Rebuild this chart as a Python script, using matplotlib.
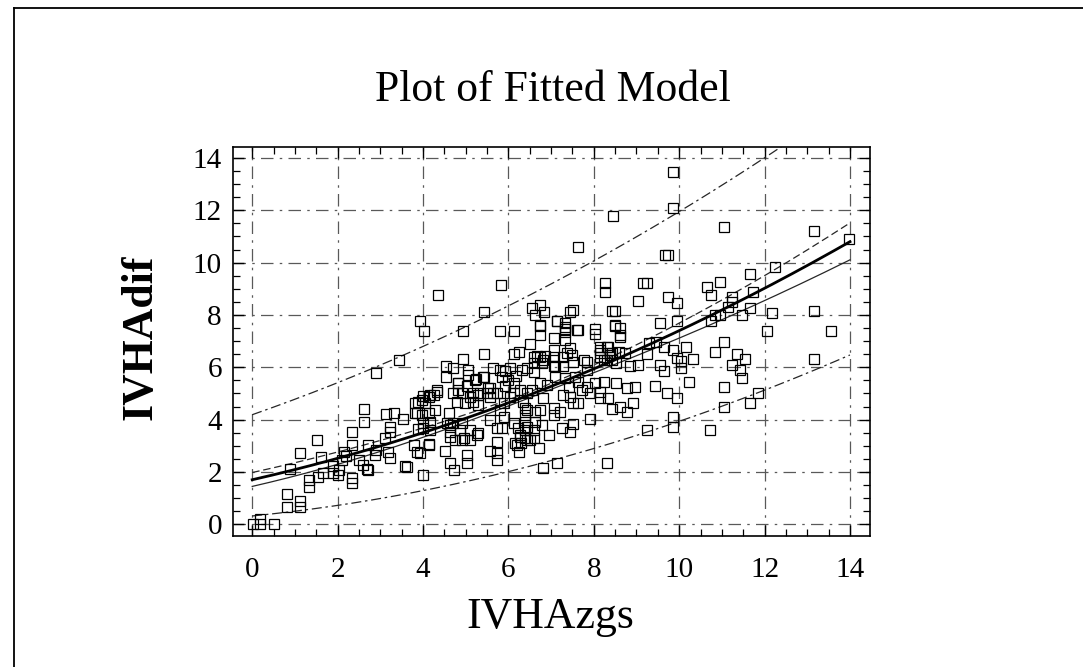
import matplotlib
matplotlib.use("Agg")
import matplotlib.pyplot as plt
import numpy as np
from matplotlib.lines import Line2D
from matplotlib.ticker import MultipleLocator

# ---------------- data ----------------
x_pts = [
    2.90, 2.61, 2.61, 3.14, 3.33, 3.22, 3.22, 3.11, 2.33, 2.33, 2.72, 1.52, 1.12, 1.62, 0.89,
    2.14, 2.20, 2.10, 2.49, 2.59, 2.69, 1.89, 1.90, 2.02, 2.04, 1.66, 1.53, 1.32, 1.32, 2.33,
    2.33, 0.81, 0.81, 1.12, 1.12, 0.02, 0.19, 0.19, 0.50, 2.90, 2.88, 3.19, 3.22, 2.72,
    5.82, 4.36, 3.93, 4.03, 5.44, 4.93, 5.81, 6.13, 3.43, 5.44, 4.93, 6.13, 6.24, 6.50, 4.54,
    4.71, 5.05, 5.05, 5.25, 5.44, 4.54, 5.64, 5.81, 5.92, 6.04, 5.84, 5.98, 6.18, 6.32, 6.43,
    5.92, 6.13, 4.83, 5.04, 5.56, 4.33, 4.17, 4.01, 4.83, 5.18, 5.34, 5.65,
    4.25, 4.05, 4.71, 4.91, 5.10, 5.30, 5.49, 5.57, 3.89, 4.79, 4.98, 5.18, 5.30, 3.53, 3.82,
    3.97, 4.01, 4.17, 4.60, 4.56, 4.71, 4.91, 5.10, 5.30, 4.87, 4.64, 4.75, 4.91, 5.10, 5.57,
    5.73, 5.84, 6.12, 6.23, 6.43, 5.73, 6.27, 6.16, 6.30, 6.43, 5.56, 5.73, 5.74, 5.02, 5.02,
    4.52, 4.64, 4.73, 4.13, 3.78, 3.86, 3.93, 3.58, 4.01,
    7.64, 8.27, 8.27, 9.16, 9.24, 9.04, 6.55, 6.74, 6.84, 6.62, 7.45, 7.52, 8.42, 8.50, 7.13,
    7.33, 7.33, 7.64, 8.03, 8.50, 8.62, 8.62, 6.74, 6.74, 7.06, 7.06, 7.45, 7.49, 6.86, 6.67,
    8.15, 8.34, 8.38,
    6.59, 6.74, 6.59, 6.78, 6.59, 7.06, 7.29, 7.06, 7.29, 7.52, 7.84, 8.15, 8.30, 8.38, 8.53,
    8.85, 9.04, 6.74, 6.90, 6.55, 6.43, 6.82, 7.10, 7.33, 7.41, 7.64, 7.84, 8.03, 8.23, 8.53,
    8.77, 8.97, 7.72, 7.91, 8.15, 8.15, 8.34, 7.29, 7.45, 7.52, 7.64, 8.42, 8.62, 8.77, 8.93,
    7.91, 7.52, 7.25, 7.45, 6.39, 6.39, 6.39, 6.63, 6.63, 6.74, 7.06, 7.06, 7.21, 6.78, 6.59,
    6.59, 6.94, 6.71, 6.39, 6.39, 7.13, 6.82, 8.32, 9.24,
    9.85, 9.85, 11.04, 13.16, 13.97, 9.67, 9.75, 12.25, 11.66, 10.96, 10.65, 10.74, 11.74,
    11.23, 11.23, 11.15, 9.73, 9.96, 11.66, 11.47, 12.17, 13.16, 10.84, 10.96, 10.74, 9.54,
    9.96, 12.05, 13.55, 9.30, 9.46, 9.24, 9.64, 9.85, 10.16, 11.04, 10.84, 11.35, 11.55, 11.23,
    11.43, 11.47, 9.96, 10.04, 10.04, 10.33, 9.54, 9.64, 13.16, 9.44, 9.72, 9.96, 10.23, 11.04,
    11.84, 11.65, 11.04, 9.85, 9.85, 10.72, 8.45,
    8.15, 8.30, 8.42, 8.15, 8.23, 8.42, 8.58, 8.74,
    3.82, 3.97, 4.13, 4.33, 3.86, 4.13, 4.29, 3.89, 4.01, 4.17, 4.13, 3.62, 4.83, 5.22, 5.41,
    5.53, 4.64, 4.64, 4.95, 5.26, 6.27, 6.51, 6.20, 6.24, 5.73, 5.89, 6.12, 6.27, 6.35, 6.04,
    5.81, 5.89, 6.43,
    6.74, 7.13, 7.33, 7.33, 7.33, 7.60, 8.03, 8.50, 8.62, 6.82, 7.10, 7.37, 7.76, 7.84, 7.56,
]
y_pts = [
    5.77, 4.40, 3.92, 4.20, 4.27, 3.73, 3.54, 3.31, 3.52, 3.03, 3.03, 3.21, 2.71, 2.58, 2.11,
    2.78, 2.61, 2.46, 2.46, 2.27, 2.10, 2.23, 1.97, 1.88, 2.08, 1.97, 1.80, 1.69, 1.44, 1.76,
    1.57, 1.16, 0.64, 0.90, 0.64, 0.00, 0.19, 0.00, 0.00, 2.84, 2.65, 2.78, 2.52, 2.08,
    9.15, 8.77, 7.78, 7.40, 8.10, 7.40, 7.40, 7.40, 6.28, 6.51, 6.31, 6.51, 6.60, 6.89, 6.05,
    5.96, 5.90, 5.71, 5.54, 5.62, 5.62, 5.99, 5.90, 5.87, 5.96, 5.64, 5.52, 5.68, 5.90, 5.96,
    5.29, 5.39, 5.41, 5.29, 5.20, 5.13, 4.94, 4.90, 5.13, 5.01, 5.01, 5.01,
    4.94, 4.63, 5.01, 5.01, 4.88, 4.94, 5.01, 4.88, 4.69, 4.69, 4.63, 4.69, 4.56, 4.01, 4.24,
    4.18, 3.86, 3.92, 4.27, 3.86, 3.86, 3.86, 3.60, 3.48, 3.60, 3.35, 3.22, 3.22, 3.22, 3.99,
    3.67, 3.67, 3.86, 3.67, 3.73, 3.16, 3.41, 3.10, 3.10, 3.22, 2.80, 2.71, 2.46, 2.65, 2.33,
    2.80, 2.33, 2.08, 3.06, 3.03, 2.78, 2.71, 2.23, 1.88,
    10.59, 9.24, 8.89, 9.24, 9.24, 8.55, 8.26, 8.38, 8.13, 8.00, 8.13, 8.19, 8.16, 8.16, 7.77,
    7.68, 7.45, 7.43, 7.45, 7.58, 7.49, 7.24, 7.58, 7.24, 7.13, 6.66, 6.73, 6.47, 6.43, 6.43,
    6.66, 6.79, 6.47,
    6.41, 6.41, 6.15, 6.15, 5.83, 6.41, 6.41, 6.03, 6.03, 6.22, 6.22, 6.41, 6.28, 6.54, 6.15,
    6.03, 6.09, 5.39, 5.32, 5.13, 5.01, 4.82, 5.64, 5.58, 5.26, 5.45, 5.26, 5.39, 5.45, 5.41,
    5.20, 5.26, 5.13, 5.01, 5.07, 4.82, 4.82, 4.94, 4.88, 4.63, 4.63, 4.40, 4.50, 4.30, 4.63,
    4.01, 3.83, 3.67, 3.54, 4.43, 4.18, 3.92, 4.30, 3.92, 4.37, 4.43, 4.18, 4.30, 3.80, 3.60,
    3.29, 3.41, 2.91, 3.60, 3.29, 2.33, 2.14, 2.33, 3.60,
    13.48, 12.10, 11.38, 11.21, 10.89, 10.28, 10.28, 9.85, 9.57, 9.25, 9.06, 8.77, 8.89,
    8.70, 8.51, 8.32, 8.70, 8.45, 8.26, 8.00, 8.09, 8.17, 8.00, 7.98, 7.75, 7.68,
    7.75, 7.40, 7.40, 6.94, 6.98, 6.51, 6.79, 6.66, 6.79, 6.98, 6.60, 6.51, 6.31, 6.09,
    5.90, 5.60, 6.35, 6.24, 5.96, 6.31, 6.09, 5.87, 6.31, 5.29, 5.01, 4.82, 5.43, 5.26,
    5.01, 4.63, 4.50, 4.11, 3.71, 3.60, 11.79,
    6.79, 6.79, 6.54, 6.54, 6.28, 6.28, 6.60, 6.54,
    4.63, 4.75, 4.88, 5.07, 4.27, 4.27, 4.37, 3.63, 3.67, 3.60, 3.03, 2.20, 5.39, 5.52, 5.64,
    5.20, 3.80, 3.54, 3.29, 3.41, 3.35, 3.22, 3.03, 2.78, 5.01, 4.63, 5.01, 5.13, 4.69, 4.88,
    4.37, 4.11, 4.37,
    7.62, 7.75, 7.55, 7.36, 7.04, 7.43, 7.26, 7.62, 7.17, 6.26, 6.03, 6.54, 6.28, 5.90, 5.64,
]

# fitted square-root-Y model: sqrt(y) = b0 + b1*x (coefficients)
fit_b0 = 1.304
fit_b1 = 0.1416
conf_min_halfwidth = 0.025   # in sqrt(y) units, at the centre of the data
conf_spread = 0.0145
data_centre = 6.8
pred_halfwidth = 0.735

x_ticks = [0, 2, 4, 6, 8, 10, 12, 14]
y_ticks = [0, 2, 4, 6, 8, 10, 12, 14]

title = "Plot of Fitted Model"
x_label = "IVHAzgs"
y_label = "IVHAdif"

# ---------------- figure ----------------
W, H = 1083, 667
fig = plt.figure(figsize=(W / 100, H / 100), dpi=100)
serif = ["Liberation Serif", "DejaVu Serif"]

ax = fig.add_axes([233 / W, 1 - 536 / H, (870 - 233) / W, (536 - 147) / H])
ax.set_xlim(-0.45, 14.47)
ax.set_ylim(-0.45, 14.42)

# grid
grid_style = dict(color="0.35", lw=0.9, ls=(0, (10, 5, 2, 5)), zorder=1)
for t in x_ticks:
    ax.axvline(t, **grid_style)
for t in y_ticks:
    ax.axhline(t, **grid_style)

# curves
xc = np.linspace(0, 14, 300)
s_fit = fit_b0 + fit_b1 * xc
hw_conf = np.sqrt(conf_min_halfwidth ** 2 + (conf_spread * (xc - data_centre)) ** 2)
hw_pred = np.sqrt(pred_halfwidth ** 2 + hw_conf ** 2)
ax.plot(xc, (s_fit + hw_pred) ** 2, color="0.15", lw=0.9, ls=(0, (8, 3, 2, 3)), zorder=2)
ax.plot(xc, (s_fit - hw_pred) ** 2, color="0.15", lw=0.9, ls=(0, (8, 3, 2, 3)), zorder=2)
ax.plot(xc, (s_fit + hw_conf) ** 2, color="0.15", lw=0.9, ls=(0, (6, 3)), zorder=2)
ax.plot(xc, (s_fit - hw_conf) ** 2, color="0.15", lw=0.9, zorder=2)
ax.plot(xc, s_fit ** 2, color="black", lw=2.0, zorder=4)

# points
ax.plot(x_pts, y_pts, ls="none", marker="s", ms=6.8, mfc="none", mec="black", mew=0.9, zorder=3)

# ticks
ax.set_xticks(x_ticks)
ax.set_yticks(y_ticks)
ax.xaxis.set_minor_locator(MultipleLocator(0.5))
ax.yaxis.set_minor_locator(MultipleLocator(0.5))
ax.tick_params(which="both", direction="in", top=True, right=True, color="black")
ax.tick_params(which="major", length=8, width=1.0)
ax.tick_params(which="minor", length=5, width=0.9)
ax.tick_params(axis="x", pad=15)
ax.tick_params(axis="y", pad=8)
for lab in ax.get_xticklabels() + ax.get_yticklabels():
    lab.set_family(serif)
    lab.set_fontsize(21)
for sp in ax.spines.values():
    sp.set_linewidth(1.2)

# texts
fig.text(553 / W, 1 - 101 / H, title, family=serif, fontsize=31.5, ha="center", va="baseline")
fig.text(550 / W, 1 - 628 / H, x_label, family=serif, fontsize=31.5, ha="center", va="baseline")
fig.text(140 / W, 1 - 337 / H, y_label, family=serif, fontsize=31.5, fontweight="bold",
         rotation=90, ha="center", va="center")

# outer border (top and left edge visible)
fig.add_artist(Line2D([14 / W, 14 / W], [0, 1 - 8 / H], color="black", lw=1.3, transform=fig.transFigure))
fig.add_artist(Line2D([14 / W, 1], [1 - 8 / H, 1 - 8 / H], color="black", lw=1.3, transform=fig.transFigure))

fig.savefig("out.png", dpi=100)
